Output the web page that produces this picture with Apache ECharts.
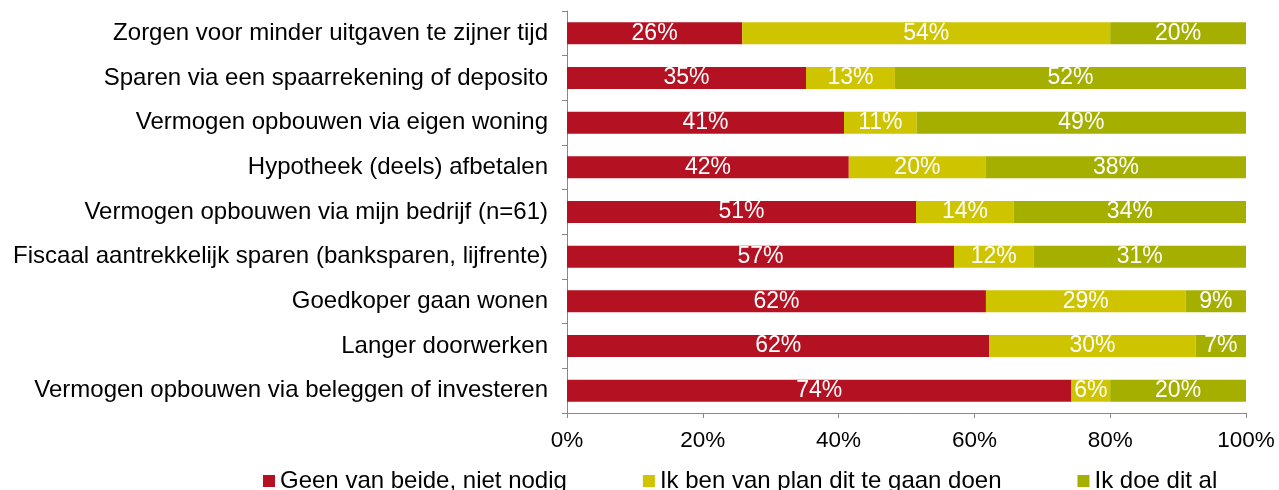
<!DOCTYPE html>
<html><head><meta charset="utf-8">
<script src="https://cdn.jsdelivr.net/npm/echarts@6/dist/echarts.min.js"></script>
<style>html,body{margin:0;padding:0;background:#fff}#c{width:1279px;height:490px}</style>
</head><body><div id="c"></div>
<script>
const categories = [
  'Zorgen voor minder uitgaven te zijner tijd',
  'Sparen via een spaarrekening of deposito',
  'Vermogen opbouwen via eigen woning',
  'Hypotheek (deels) afbetalen',
  'Vermogen opbouwen via mijn bedrijf (n=61)',
  'Fiscaal aantrekkelijk sparen (banksparen, lijfrente)',
  'Goedkoper gaan wonen',
  'Langer doorwerken',
  'Vermogen opbouwen via beleggen of investeren'
];
const seriesNames = ['Geen van beide, niet nodig', 'Ik ben van plan dit te gaan doen', 'Ik doe dit al'];
const geenValues = [25.8, 35.2, 40.8, 41.5, 51.4, 57.0, 61.7, 62.2, 74.3];
const planValues = [54.2, 13.1, 10.7, 20.2, 14.4, 11.7, 29.4, 30.4, 5.7];
const alValues   = [20.0, 51.7, 48.5, 38.3, 34.2, 31.3, 8.9, 7.4, 20.0];
const xTicks = [0, 20, 40, 60, 80, 100];
const colors = ['#B41223', '#CEC400', '#A4AF00'];
const FONT = 'Liberation Sans, Arial, sans-serif';

const chart = echarts.init(document.getElementById('c'));
const mk = (name, data, color) => ({
  name, type: 'bar', stack: 'all', data, barWidth: 22,
  itemStyle: { color },
  label: {
    show: true, position: 'inside', color: '#fff', fontFamily: FONT, fontSize: 23,
    formatter: p => Math.round(p.value) + '%'
  }
});
chart.setOption({
  animation: false,
  textStyle: { fontFamily: FONT },
  grid: { left: 567, right: 33, top: 11, bottom: 77, containLabel: false },
  xAxis: {
    type: 'value', min: xTicks[0], max: xTicks[xTicks.length - 1], interval: 20,
    axisLine: { show: true, lineStyle: { color: '#888' } },
    axisTick: { show: true, length: 5, lineStyle: { color: '#888' } },
    splitLine: { show: false },
    axisLabel: { color: '#000', fontSize: 22.5, fontFamily: FONT, margin: 16, formatter: v => v + '%' }
  },
  yAxis: {
    type: 'category', data: categories, inverse: true,
    axisLine: { show: true, lineStyle: { color: '#888' } },
    axisTick: { show: true, length: 5, lineStyle: { color: '#888' } },
    axisLabel: { color: '#000', fontSize: 24, fontFamily: FONT, margin: 19 }
  },
  legend: {
    data: seriesNames, left: 258, top: 464, itemWidth: 12, itemHeight: 12, itemGap: 76,
    icon: 'rect',
    textStyle: { color: '#000', fontSize: 24, fontFamily: FONT }
  },
  series: [
    mk(seriesNames[0], geenValues, colors[0]),
    mk(seriesNames[1], planValues, colors[1]),
    mk(seriesNames[2], alValues, colors[2])
  ]
});
</script></body></html>
